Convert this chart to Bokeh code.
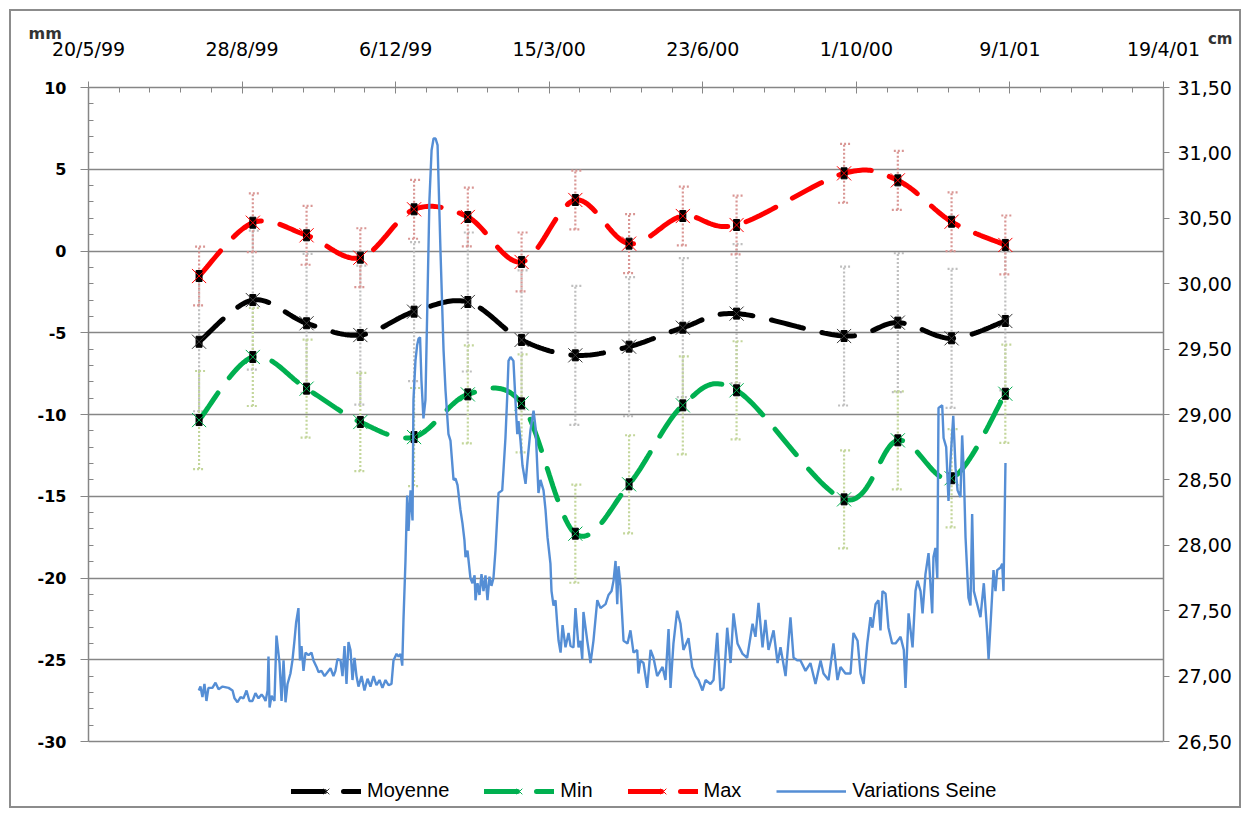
import numpy as np
import pandas as pd
from bokeh.plotting import figure
from bokeh.models import (Range1d, LinearAxis, FixedTicker, CustomJSTickFormatter,
                          ColumnDataSource, Whisker, TeeHead, Legend, LegendItem, Title)
from bokeh.embed import file_html
from bokeh.resources import INLINE

# ---------------- data ----------------
start_date = "1999-05-20"
tick_days = [0, 100, 200, 300, 400, 500, 600, 700]
tick_labels = ["20/5/99", "28/8/99", "6/12/99", "15/3/00", "23/6/00", "1/10/00", "9/1/01", "19/4/01"]
left_ticks = [-30, -25, -20, -15, -10, -5, 0, 5, 10]
right_ticks = [26.5, 27.0, 27.5, 28.0, 28.5, 29.0, 29.5, 30.0, 30.5, 31.0, 31.5]

sample_dates = ["1999-07-31", "1999-09-04", "1999-10-09", "1999-11-13", "1999-12-18",
                "2000-01-22", "2000-02-26", "2000-04-01", "2000-05-06", "2000-06-10",
                "2000-07-15", "2000-09-23", "2000-10-28", "2000-12-02", "2001-01-06"]
moyenne = [-5.55, -3.0, -4.42, -5.14, -3.71, -3.12, -5.44, -6.38, -5.85, -4.69, -3.83, -5.2, -4.38, -5.34, -4.28]
minimum = [-10.34, -6.48, -8.42, -10.46, -11.38, -8.77, -9.32, -17.29, -14.27, -9.44, -8.52, -15.19, -11.58, -13.9, -8.73]
maximum = [-1.53, 1.73, 0.96, -0.41, 2.55, 2.08, -0.67, 3.12, 0.45, 2.14, 1.59, 4.75, 4.32, 1.79, 0.37]
err_moyenne = [4.25] * 15
err_minimum = [3.0] * 15
err_maximum = [1.8] * 15

seine_days = [71.8, 72.9, 74.2, 75.5, 76.8, 78.1, 80.7, 82.7, 84.7, 87.3,
              91.2, 93.8, 95.1, 97.0, 99.0, 100.9, 102.9, 104.8, 106.8, 108.7,
              110.7, 112.7, 114.0, 115.3, 116.6, 117.2, 117.9, 119.2, 121.1, 122.4,
              124.4, 125.7, 127.0, 128.3, 129.6, 131.5, 132.8, 134.1, 135.2, 136.7,
              137.7, 138.7, 140.0, 141.3, 143.3, 145.2, 146.5, 148.5, 149.8, 151.7,
              153.7, 155.6, 157.6, 159.5, 160.8, 162.1, 164.1, 165.4, 166.7, 168.0,
              169.3, 170.6, 171.9, 173.2, 174.5, 175.8, 177.8, 179.7, 181.7, 183.6,
              185.6, 187.5, 189.5, 191.4, 193.4, 195.4, 197.3, 198.6, 200.6, 201.9,
              203.2, 204.3, 205.1, 206.4, 207.5, 208.4, 209.7, 211.0, 211.6, 212.9,
              214.0, 214.9, 215.9, 216.8, 218.1, 219.4, 220.7, 222.0, 223.4, 224.7,
              226.0, 227.3, 229.2, 231.2, 232.5, 234.4, 235.7, 237.7, 239.0, 240.3,
              242.2, 243.5, 244.8, 245.5, 246.8, 248.7, 250.0, 251.4, 252.0, 253.3,
              254.6, 255.9, 257.2, 258.5, 259.8, 261.1, 262.4, 263.7, 265.0, 267.0,
              269.4, 270.2, 271.5, 272.8, 273.5, 274.8, 276.7, 278.0, 279.2, 280.0,
              281.3, 282.6, 284.6, 285.9, 287.8, 289.8, 291.1, 293.0, 294.3, 296.3,
              297.6, 298.9, 300.8, 301.5, 302.8, 304.1, 305.2, 306.1, 307.4, 308.7,
              310.6, 312.6, 313.9, 315.8, 317.1, 319.1, 320.4, 321.5, 322.3, 324.9,
              326.9, 328.8, 331.3, 333.4, 336.7, 338.6, 340.6, 341.9, 343.2, 344.3,
              345.1, 346.4, 348.4, 351.0, 352.9, 354.9, 357.3, 358.1, 359.4, 361.4,
              363.8, 366.0, 367.9, 370.3, 373.8, 375.7, 377.7, 379.0, 380.9, 383.3,
              385.5, 387.4, 390.7, 393.1, 395.3, 397.2, 399.8, 401.8, 405.0, 407.0,
              409.4, 411.5, 413.5, 415.9, 418.1, 420.0, 422.6, 425.9, 428.9, 432.4,
              434.3, 436.3, 438.9, 440.8, 442.8, 446.1, 448.7, 450.6, 453.9, 457.1,
              459.1, 461.7, 463.6, 466.9, 470.1, 473.4, 476.7, 478.6, 481.9, 485.1,
              487.7, 489.7, 492.9, 496.2, 498.1, 500.8, 502.7, 504.7, 507.1, 509.2,
              510.5, 512.5, 514.4, 515.7, 517.0, 519.0, 520.9, 523.3, 525.5, 528.8,
              530.9, 532.0, 534.0, 536.6, 538.5, 539.8, 541.8, 543.1, 545.0, 547.0,
              549.4, 550.2, 551.5, 552.7, 553.5, 555.9, 556.8, 558.5, 560.0, 561.3,
              563.1, 564.6, 565.9, 567.8, 568.9, 570.0, 571.1, 573.0, 574.3, 575.4,
              576.5, 578.9, 580.8, 583.0, 585.2, 586.1, 587.4, 589.3, 590.6, 591.7,
              593.9, 595.0, 595.8, 597.1]
seine_cm = [26.89, 26.92, 26.84, 26.94, 26.81, 26.91, 26.91, 26.95, 26.90, 26.92,
            26.91, 26.89, 26.83, 26.80, 26.84, 26.83, 26.89, 26.81, 26.81, 26.87,
            26.83, 26.86, 26.84, 26.81, 26.89, 27.15, 26.76, 26.85, 26.81, 27.31,
            27.10, 26.81, 27.12, 26.80, 26.94, 27.02, 27.12, 27.27, 27.41, 27.52,
            27.12, 27.23, 27.04, 27.18, 27.16, 27.18, 27.12, 27.07, 27.03, 27.04,
            27.00, 27.03, 27.06, 27.00, 27.04, 27.13, 27.12, 27.00, 27.23, 26.94,
            27.26, 27.20, 26.97, 27.14, 27.00, 26.92, 27.00, 26.89, 26.98, 26.92,
            27.00, 26.93, 26.97, 26.91, 26.97, 26.93, 26.94, 27.12, 27.17, 27.15,
            27.17, 27.08, 27.43, 27.88, 28.38, 28.11, 28.42, 28.19, 29.11, 29.41,
            29.53, 29.58, 29.59, 29.26, 28.97, 29.11, 29.87, 30.64, 31.02, 31.11,
            31.11, 31.06, 30.25, 29.49, 29.18, 28.85, 28.80, 28.50, 28.51, 28.46,
            28.27, 28.17, 28.04, 27.91, 27.96, 27.75, 27.71, 27.77, 27.58, 27.71,
            27.62, 27.78, 27.65, 27.77, 27.58, 27.76, 27.69, 27.75, 27.96, 28.40,
            28.42, 28.57, 28.82, 29.18, 29.41, 29.44, 29.41, 29.11, 28.85, 28.95,
            28.80, 28.61, 28.47, 28.65, 28.88, 29.03, 28.90, 28.40, 28.50, 28.42,
            28.27, 28.06, 27.86, 27.65, 27.54, 27.58, 27.40, 27.27, 27.18, 27.39,
            27.22, 27.33, 27.23, 27.22, 27.52, 27.22, 27.27, 27.13, 27.49, 27.26,
            27.10, 27.27, 27.58, 27.52, 27.55, 27.62, 27.65, 27.73, 27.88, 27.55,
            27.84, 27.69, 27.27, 27.25, 27.35, 27.18, 27.20, 27.02, 27.12, 27.10,
            26.91, 27.20, 27.14, 27.00, 27.07, 26.97, 27.36, 26.91, 27.25, 27.50,
            27.40, 27.20, 27.29, 27.07, 27.00, 26.97, 26.89, 26.97, 26.94, 26.97,
            27.33, 26.89, 26.91, 27.37, 27.10, 27.48, 27.25, 27.17, 27.14, 27.40,
            27.30, 27.56, 27.22, 27.43, 27.20, 27.35, 27.10, 27.22, 27.00, 27.45,
            27.14, 27.12, 27.12, 27.04, 27.10, 26.94, 27.12, 27.02, 26.97, 27.25,
            26.97, 27.07, 27.02, 27.02, 27.33, 27.27, 27.02, 26.94, 27.25, 27.45,
            27.37, 27.55, 27.58, 27.35, 27.65, 27.63, 27.37, 27.25, 27.25, 27.30,
            27.20, 26.91, 27.48, 27.22, 27.65, 27.73, 27.65, 27.48, 27.78, 27.94,
            27.48, 27.91, 27.98, 27.75, 29.05, 29.07, 28.82, 28.75, 28.34, 28.65,
            28.99, 28.59, 28.42, 28.37, 28.84, 28.55, 28.06, 27.60, 27.54, 28.24,
            27.65, 27.54, 27.45, 27.71, 27.33, 27.13, 27.40, 27.81, 27.65, 27.81,
            27.83, 27.86, 27.65, 28.63]

# ---------------- helpers ----------------
t0 = pd.Timestamp(start_date)
sample_x = [(pd.Timestamp(d) - t0).days for d in sample_dates]


def smooth(xs, ys, n=30):
    """Excel-like smoothed line (Catmull-Rom Bezier through the points)."""
    P = np.column_stack([np.asarray(xs, float), np.asarray(ys, float)])
    ext = np.vstack([P[0], P, P[-1]])
    t = np.linspace(0, 1, n)[:, None]
    out = []
    for i in range(len(P) - 1):
        p0, p1, p2, p3 = ext[i], ext[i + 1], ext[i + 2], ext[i + 3]
        c1 = p1 + (p2 - p0) / 6.0
        c2 = p2 - (p3 - p1) / 6.0
        seg = (1 - t) ** 3 * p1 + 3 * (1 - t) ** 2 * t * c1 + 3 * (1 - t) * t ** 2 * c2 + t ** 3 * p2
        out.append(seg if i == 0 else seg[1:])
    arr = np.vstack(out)
    return arr[:, 0], arr[:, 1]


# ---------------- layout ----------------
W, H = 1250, 817
B_LEFT, B_TOP, B_BOTTOM = 88, 87, 12
FRAME_W = 1075
B_RIGHT = W - B_LEFT - FRAME_W
frame_h = H - B_TOP - B_BOTTOM
px_per_mm = 654 / 40.0          # 40 mm of axis span over 654 px
ymin = 10 - frame_h / px_per_mm  # frame extends a little below -30 to host the legend
ymin_cm = 26.5 - (-30 - ymin) / 8.0

p = figure(width=W, height=H, output_backend="svg", toolbar_location=None,
           x_range=Range1d(0, 700), y_range=Range1d(ymin, 10),
           x_axis_location="above", y_axis_location="left",
           min_border_left=B_LEFT, min_border_right=B_RIGHT, min_border_top=B_TOP,
           min_border_bottom=B_BOTTOM,
           background_fill_color="white", border_fill_color=None,
           outline_line_color=None)
# chart-area border (drawn behind the transparent border area of the canvas)
p.stylesheets = [":host, .bk-Canvas { background-color: white; "
                 "box-shadow: inset 0 0 0 9px white, inset 0 0 0 11px #8c8c8c; }"]
p.extra_y_ranges = {"cm": Range1d(ymin_cm, 31.5)}

AX = "#868686"
p.xgrid.visible = False
p.ygrid.grid_line_color = AX
p.ygrid.grid_line_width = 1.3

xa = p.xaxis[0]
xa.ticker = FixedTicker(ticks=tick_days, minor_ticks=list(range(0, 701, 20)))
xa.major_label_overrides = dict(zip(tick_days, tick_labels))
xa.axis_line_color = AX
xa.axis_line_width = 1.5
xa.major_tick_line_color = AX
xa.minor_tick_line_color = AX
xa.major_tick_in = 6
xa.major_tick_out = 6
xa.minor_tick_in = 5
xa.minor_tick_out = 0
xa.major_label_standoff = 22
xa.major_label_text_font = "DejaVu Sans"
xa.major_label_text_font_size = "19px"
xa.major_label_text_color = "black"

ya = p.yaxis[0]
ya.bounds = (-30, 10)
ya.ticker = FixedTicker(ticks=left_ticks, minor_ticks=list(range(-30, 11, 1)))
ya.formatter = CustomJSTickFormatter(code="return String(tick);")
ya.axis_line_color = AX
ya.axis_line_width = 1.5
ya.major_tick_line_color = AX
ya.minor_tick_line_color = AX
ya.major_tick_in = 0
ya.major_tick_out = 8
ya.minor_tick_in = 5
ya.minor_tick_out = 0
ya.major_label_standoff = 14
ya.major_label_text_font = "DejaVu Sans"
ya.major_label_text_font_size = "16px"
ya.major_label_text_font_style = "bold"
ya.major_label_text_color = "black"

ra = LinearAxis(y_range_name="cm", bounds=(26.5, 31.5),
                ticker=FixedTicker(ticks=right_ticks, minor_ticks=[]),
                formatter=CustomJSTickFormatter(code="return tick.toFixed(2).replace('.', ',');"))
ra.axis_line_color = AX
ra.axis_line_width = 1.5
ra.major_tick_line_color = AX
ra.major_tick_in = 0
ra.major_tick_out = 6
ra.major_label_standoff = 8
ra.major_label_text_font = "DejaVu Sans"
ra.major_label_text_font_size = "19px"
ra.major_label_text_color = "black"
p.add_layout(ra, "right")

# unit labels (above the top axis)
p.add_layout(Title(text="cm", align="right", offset=-69, standoff=-26, vertical_align="bottom",
                   text_font="DejaVu Sans", text_font_size="15px", text_font_style="bold",
                   text_color="#333333"), "above")
p.add_layout(Title(text="mm", align="left", offset=-60, standoff=-16, vertical_align="bottom",
                   text_font="DejaVu Sans", text_font_size="16px", text_font_style="bold",
                   text_color="#333333"), "above")

# ---------------- error bars ----------------
series = [
    ("Moyenne", moyenne, err_moyenne, "#000000", "#bfbfbf", "#3a3a3a"),
    ("Min", minimum, err_minimum, "#00b050", "#c3d69b", "#00b050"),
    ("Max", maximum, err_maximum, "#ff0000", "#d99694", "#ff0000"),
]
for name, vals, errs, col, ecol, xcol in series:
    src = ColumnDataSource(dict(x=sample_x,
                                upper=[v + e for v, e in zip(vals, errs)],
                                lower=[v - e for v, e in zip(vals, errs)]))
    w = Whisker(source=src, base="x", upper="upper", lower="lower", dimension="height",
                line_color=ecol, line_width=2.2, line_dash="2 2",
                upper_head=TeeHead(size=12, line_color=ecol, line_width=2.2, line_dash="2 2"),
                lower_head=TeeHead(size=12, line_color=ecol, line_width=2.2, line_dash="2 2"))
    p.add_layout(w)

# ---------------- series ----------------
items = []
for name, vals, errs, col, ecol, xcol in series:
    sx, sy = smooth(sample_x, vals)
    lr = p.line(sx, sy, line_color=col, line_width=5, line_dash="33 19", line_cap="round")
    p.rect(sample_x, vals, width=6, height=11, width_units="screen", height_units="screen",
           fill_color="black", line_color="black")
    xr = p.scatter(sample_x, vals, marker="x", size=20, line_color=xcol, line_width=1)
    items.append(LegendItem(label=name, renderers=[lr, xr]))

br = p.line(seine_days, seine_cm, y_range_name="cm", line_color="#558ed5", line_width=2.4)
items.append(LegendItem(label="Variations Seine", renderers=[br]))

legend = Legend(items=items, orientation="horizontal", location=(203, 3),
                glyph_width=70, glyph_height=20, label_standoff=6, spacing=35,
                padding=0, margin=0, border_line_alpha=0, background_fill_alpha=0,
                label_text_font="Liberation Sans", label_text_font_size="20px",
                label_text_color="black")
p.add_layout(legend)

open("out.html", "w").write(file_html(p, INLINE))
